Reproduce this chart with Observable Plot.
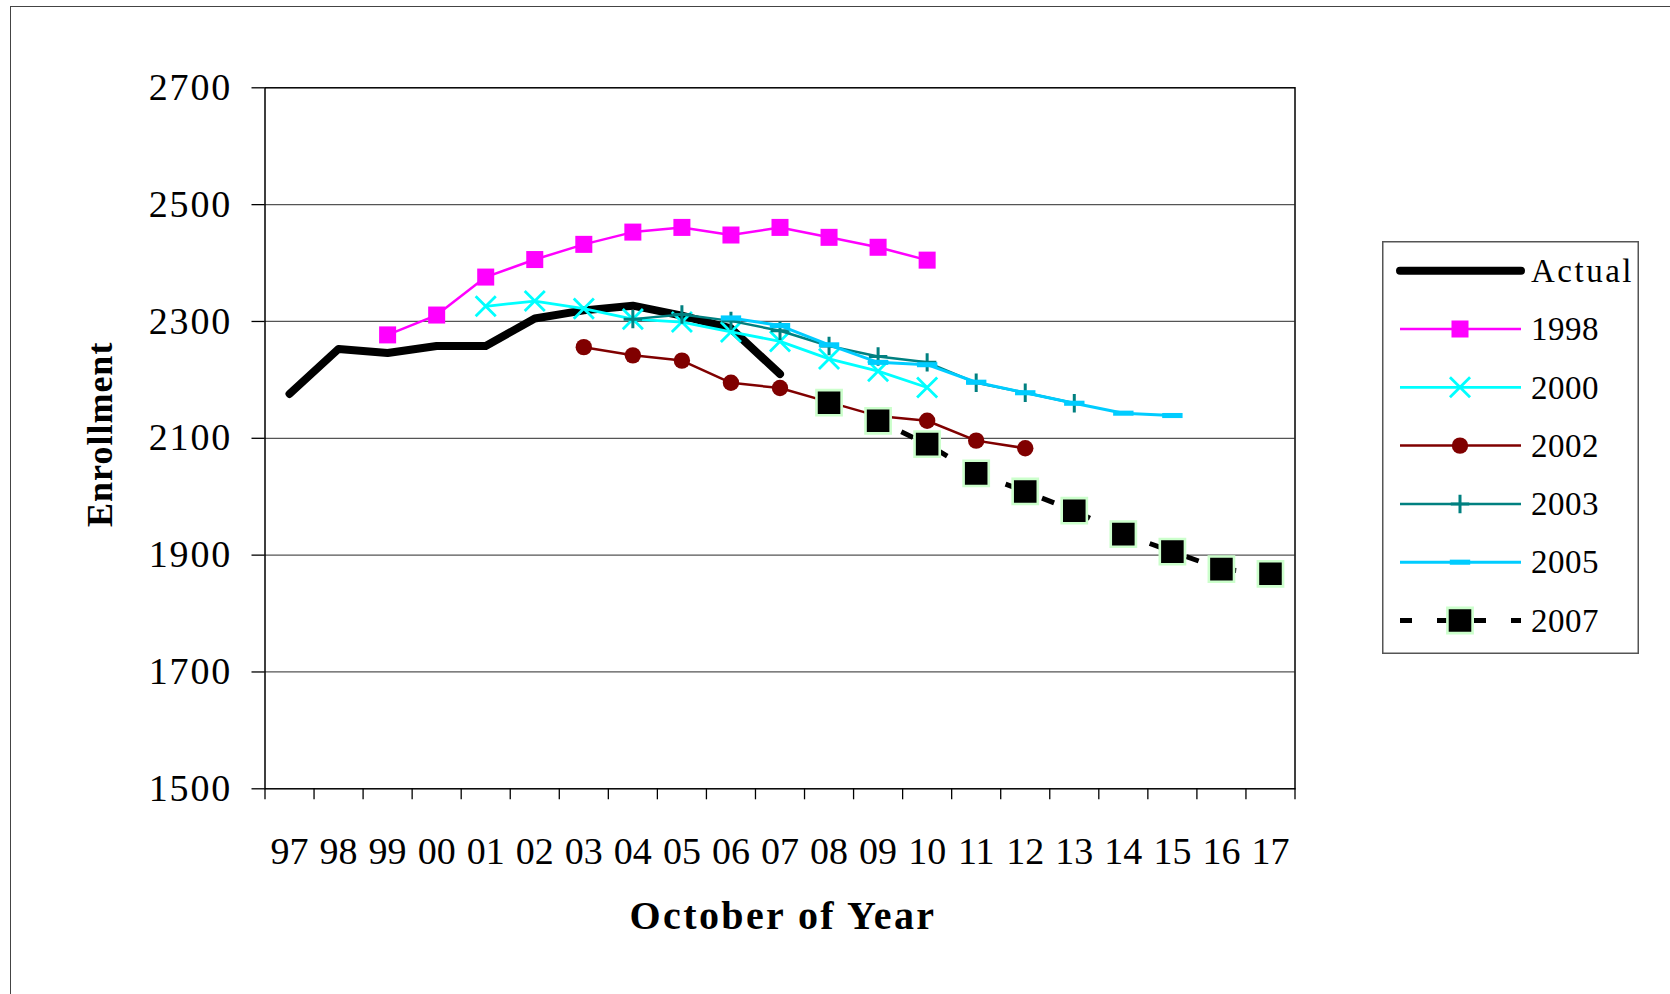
<!DOCTYPE html>
<html><head><meta charset="utf-8">
<script src="https://cdn.jsdelivr.net/npm/d3@7"></script>
<script src="https://cdn.jsdelivr.net/npm/@observablehq/plot@0.6"></script>
<style>
html,body{margin:0;padding:0;background:#fff;overflow:hidden;}
#wrap{position:relative;width:1670px;height:994px;font-family:"Liberation Serif","Times New Roman",serif;}
#border{position:absolute;left:10px;top:6px;width:2000px;height:2000px;border-left:1.5px solid #444;border-top:1.5px solid #444;box-sizing:border-box;}
#chart{position:absolute;left:0;top:0;}
#legend{position:absolute;left:1382px;top:241px;}
</style></head><body><div id="wrap"><div id="border"></div><div id="chart"></div><div id="legend"></div></div>
<script>
// ---- data ----
const years = ["97","98","99","00","01","02","03","04","05","06","07","08","09","10","11","12","13","14","15","16","17"];
const actual   = [2176, 2253, 2246, 2258, 2258, 2305, 2319, 2327, 2310, 2288, 2210];           // 97–07
const proj1998 = [2277, 2311, 2376, 2406, 2432, 2453, 2461, 2448, 2461, 2444, 2427, 2405];     // 99–10
const proj2000 = [2326, 2335, 2322, 2304, 2299, 2282, 2266, 2236, 2215, 2187];                 // 01–10
const proj2002 = [2256, 2242, 2233, 2195, 2186, 2162, 2138, 2130, 2096, 2083];                 // 03–12
const proj2003 = [2304, 2312, 2301, 2284, 2258, 2240, 2230, 2195, 2178, 2160];                 // 04–13
const proj2005 = [2306, 2293, 2260, 2230, 2226, 2196, 2178, 2160, 2143, 2139];                 // 06–15
const proj2007 = [2161, 2130, 2090, 2040, 2009, 1976, 1936, 1906, 1876, 1868];                 // 08–17
const seriesNames  = ["Actual", "1998", "2000", "2002", "2003", "2005", "2007"];
const seriesStarts = ["97", "99", "01", "03", "04", "06", "08"];
const seriesValues = [actual, proj1998, proj2000, proj2002, proj2003, proj2005, proj2007];
const yTicks = [1500, 1700, 1900, 2100, 2300, 2500, 2700];
const gridTicks = [1700, 1900, 2100, 2300, 2500];

// ---- styles ----
const dashSymbol = {draw(ctx, size) { const r = Math.sqrt(size / Math.PI); ctx.rect(-1.2 * r, -0.3 * r, 2.4 * r, 0.6 * r); }};
const styles = {
  "Actual": {stroke: "#000", strokeWidth: 8, symbol: null},
  "1998": {stroke: "#FF00FF", strokeWidth: 2.5, symbol: "square", r: 9.6, fill: "#FF00FF", mStroke: "none", mW: 0},
  "2000": {stroke: "#00FFFF", strokeWidth: 2.8, symbol: "times", r: 9.2, fill: "none", mStroke: "#00FFFF", mW: 2.8},
  "2002": {stroke: "#800000", strokeWidth: 2.5, symbol: "circle", r: 8.2, fill: "#800000", mStroke: "none", mW: 0},
  "2003": {stroke: "#008080", strokeWidth: 2.5, symbol: "plus", r: 6, fill: "none", mStroke: "#008080", mW: 3},
  "2005": {stroke: "#00CCFF", strokeWidth: 3, symbol: dashSymbol, r: 8.5, fill: "#00CCFF", mStroke: "none", mW: 0},
  "2007": {stroke: "#000", strokeWidth: 5, dash: "13,26", symbol: "square", r: 14.2, fill: "#000", mStroke: "#CCFFCC", mW: 2.6}
};

const rows = seriesNames.map((name, k) => {
  const s0 = years.indexOf(seriesStarts[k]);
  return seriesValues[k].map((v, j) => ({series: name, i: s0 + j, v}));
});

const font = '"Liberation Serif","Times New Roman",serif';
const marks = [
  Plot.ruleY(gridTicks, {y: d => d, stroke: "#555", strokeWidth: 1.3}),
  Plot.frame({stroke: "#000", strokeWidth: 1.5}),
  Plot.axisY(yTicks, {tickSize: 13, tickPadding: 20, fontSize: 38, tickFormat: d => String(d), label: null, strokeWidth: 1.3}),
  Plot.axisX(d3.range(22).map(i => i - 0.5), {tickSize: 11, tickFormat: () => "", label: null, strokeWidth: 1.3}),
  Plot.axisX(d3.range(21), {tickSize: 0, tickPadding: 48, tickFormat: i => years[i], fontSize: 38, label: null})
];
seriesNames.forEach((name, k) => {
  const st = styles[name];
  marks.push(Plot.line(rows[k], {x: "i", y: "v", stroke: st.stroke, strokeWidth: st.strokeWidth,
    strokeDasharray: st.dash, strokeLinecap: name === "Actual" ? "round" : "butt", strokeLinejoin: "round"}));
  if (st.symbol) {
    marks.push(Plot.dot(rows[k], {x: "i", y: "v", symbol: st.symbol, r: st.r, fill: st.fill,
      stroke: st.mStroke, strokeWidth: st.mW}));
  }
});
marks.push(Plot.text(["Enrollment"], {frameAnchor: "left", dx: -164.5, dy: -4, rotate: -90, text: d => d,
  textAnchor: "middle", lineAnchor: "middle", fontSize: 36, fontWeight: "bold"}));
marks.push(Plot.text(["October of Year"], {frameAnchor: "bottom", dx: 3, dy: 127, text: d => d,
  textAnchor: "middle", lineAnchor: "middle", fontSize: 40, fontWeight: "bold"}));

const chart = Plot.plot({
  width: 1670, height: 994,
  marginLeft: 264.5, marginRight: 375.5, marginTop: 87.3, marginBottom: 205.7,
  x: {type: "linear", domain: [-0.5, 20.5], axis: null},
  y: {type: "linear", domain: [1500, 2700], axis: null},
  style: {fontFamily: font, background: "transparent", color: "#000", overflow: "visible"},
  marks
});
document.getElementById("chart").appendChild(chart);
const allText = d3.select(chart).selectAll("text");
allText.filter(function() { return this.textContent === "Enrollment"; }).attr("letter-spacing", "1px");
allText.filter(function() { return this.textContent === "October of Year"; }).attr("letter-spacing", "2.4px");
allText.filter(function() { return yTicks.map(String).includes(this.textContent); }).attr("letter-spacing", "1.8px");

// ---- legend ----
const lg = d3.select("#legend").append("svg").attr("width", 258).attr("height", 414)
  .style("font-family", font).style("overflow", "visible");
lg.append("rect").attr("x", 0.75).attr("y", 0.75).attr("width", 255.5).attr("height", 411.5)
  .attr("fill", "#fff").attr("stroke", "#555").attr("stroke-width", 1.5);
seriesNames.forEach((name, k) => {
  const st = styles[name];
  const cy = 29.7 + k * 58.3;
  const g = lg.append("g");
  g.append("line").attr("x1", 18).attr("x2", 139).attr("y1", cy).attr("y2", cy)
    .attr("stroke", st.stroke).attr("stroke-width", st.strokeWidth)
    .attr("stroke-dasharray", st.dash ? "12,25" : null)
    .attr("stroke-linecap", name === "Actual" ? "round" : "butt");
  if (st.symbol) {
    const sym = typeof st.symbol === "string" ? ({square: d3.symbolSquare, times: d3.symbolTimes, circle: d3.symbolCircle, plus: d3.symbolPlus})[st.symbol] : st.symbol;
    g.append("path").attr("transform", `translate(78,${cy})`)
      .attr("d", d3.symbol(sym, st.r * st.r * Math.PI)())
      .attr("fill", st.fill).attr("stroke", st.mStroke).attr("stroke-width", st.mW);
  }
  g.append("text").attr("x", 149).attr("y", cy).attr("dy", "0.34em").attr("font-size", 33)
    .attr("letter-spacing", name === "Actual" ? "2.5px" : "0.5px").text(name);
});
</script></body></html>
